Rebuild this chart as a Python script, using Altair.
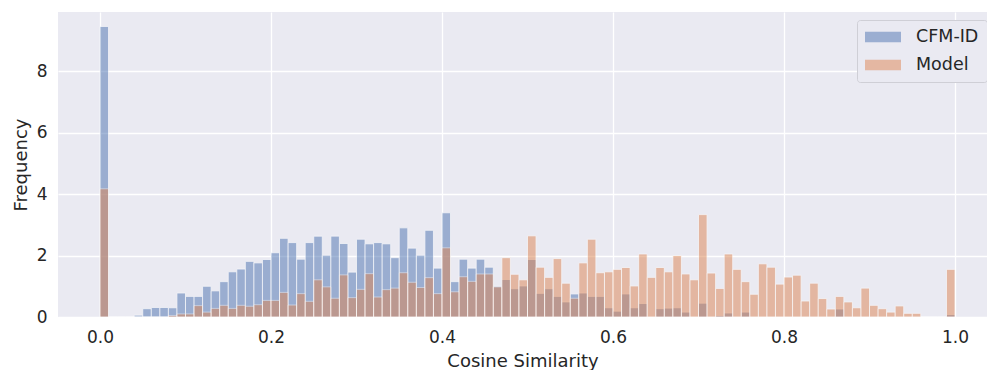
import altair as alt
import pandas as pd

bin_width = 0.01
bin_starts = [round(i * bin_width, 2) for i in range(100)]

cfm_id = [
    9.45, 0, 0, 0, 0.06, 0.27, 0.31, 0.31, 0.30, 0.78,
    0.67, 0.67, 1.00, 0.85, 1.15, 1.47, 1.56, 1.81, 1.76, 1.87,
    2.09, 2.56, 2.42, 1.88, 2.42, 2.63, 2.01, 2.63, 2.39, 1.46,
    2.53, 2.38, 2.42, 2.38, 1.93, 2.90, 2.24, 2.01, 2.82, 1.59,
    3.39, 1.15, 1.88, 1.59, 1.88, 1.62, 1.00, 1.22, 0.92, 1.01,
    1.87, 0.77, 0.92, 0.67, 0.49, 0.75, 0.78, 0.67, 0.67, 0.30,
    0.19, 0.75, 0.30, 0.44, 0.0, 0.27, 0.29, 0.30, 0.16, 0.0,
    0.45, 0.0, 0.05, 0.13, 0.0, 0.16, 0, 0, 0, 0,
    0, 0, 0, 0, 0, 0, 0.26, 0, 0, 0,
    0, 0, 0, 0, 0, 0, 0, 0, 0, 0.08,
]

model = [
    4.17, 0, 0, 0, 0, 0, 0, 0, 0.05, 0.10,
    0.10, 0.37, 0.16, 0.28, 0.38, 0.28, 0.38, 0.35, 0.40, 0.54,
    0.54, 0.80, 0.39, 0.76, 0.51, 1.21, 0.98, 0.61, 1.37, 0.63,
    0.90, 1.41, 0.65, 0.89, 0.94, 1.44, 1.13, 0.96, 1.28, 0.76,
    2.25, 0.82, 1.31, 1.16, 1.40, 1.40, 0.98, 1.93, 1.39, 1.21,
    2.64, 1.62, 1.29, 1.90, 1.10, 0.61, 1.76, 2.53, 1.44, 1.47,
    1.55, 1.61, 1.01, 2.05, 1.29, 1.61, 1.47, 2.00, 1.40, 1.21,
    3.33, 1.43, 0.93, 2.05, 1.55, 1.15, 0.74, 1.73, 1.62, 1.07,
    1.30, 1.36, 0.52, 1.10, 0.60, 0.26, 0.67, 0.49, 0.30, 0.94,
    0.38, 0.27, 0.16, 0.36, 0.12, 0.12, 0, 0, 0, 1.55,
]

series_names = ["CFM-ID", "Model"]
series_colors = ["#4C72B0", "#DD8452"]
x_ticks = [0.0, 0.2, 0.4, 0.6, 0.8, 1.0]
y_ticks = [0, 2, 4, 6, 8]

rows = []
for name, vals in zip(series_names, [cfm_id, model]):
    for s, v in zip(bin_starts, vals):
        rows.append({"series": name, "start": s, "end": round(s + bin_width, 2), "freq": v})
df = pd.DataFrame(rows)

FONT = "DejaVu Sans"
TXT = "#262626"

legend_symbol = "M-1,-0.58L3,-0.58L3,0.58L-1,0.58Z"

chart = alt.Chart(df).mark_bar(
    opacity=0.5, stroke="white", strokeWidth=0.8
).encode(
    x=alt.X("start:Q",
            scale=alt.Scale(domain=[-0.0491, 1.0374], nice=False, zero=False),
            axis=alt.Axis(values=x_ticks, format=".1f", title="Cosine Similarity",
                          labelFontSize=17, titleFontSize=18, labelPadding=12,
                          titlePadding=7, ticks=False, domain=False,
                          gridColor="white", gridWidth=1.3,
                          labelColor=TXT, titleColor=TXT, titleFontWeight="normal",
                          labelFont=FONT, titleFont=FONT)),
    x2="end:Q",
    y=alt.Y("freq:Q", stack=None,
            scale=alt.Scale(domain=[0, 9.92], nice=False),
            axis=alt.Axis(values=y_ticks, title="Frequency",
                          labelFontSize=17, titleFontSize=18, labelPadding=11,
                          titlePadding=6, ticks=False, domain=False,
                          gridColor="white", gridWidth=1.3,
                          labelColor=TXT, titleColor=TXT, titleFontWeight="normal",
                          labelFont=FONT, titleFont=FONT)),
    y2=alt.datum(0),
    color=alt.Color("series:N",
                    scale=alt.Scale(domain=series_names, range=series_colors),
                    legend=alt.Legend(title=None, orient="none", legendX=799, legendY=8,
                                      symbolType=legend_symbol, symbolSize=324,
                                      symbolOpacity=0.5, symbolStrokeWidth=0,
                                      labelFontSize=17.5, labelFont=FONT, labelColor=TXT,
                                      labelOffset=33, rowPadding=10, padding=8,
                                      fillColor="#EAEAF2", strokeColor="#CFCFD6",
                                      cornerRadius=3)),
    order=alt.Order("series:N"),
).properties(
    width=929, height=305,
    padding={"left": 58, "top": 12, "right": 0, "bottom": 53},
    autosize=alt.AutoSizeParams(type="none"),
    background="white",
).configure_view(
    fill="#EAEAF2", stroke=None
)

chart.save("out.html", embed_options={"renderer": "svg", "actions": False})
